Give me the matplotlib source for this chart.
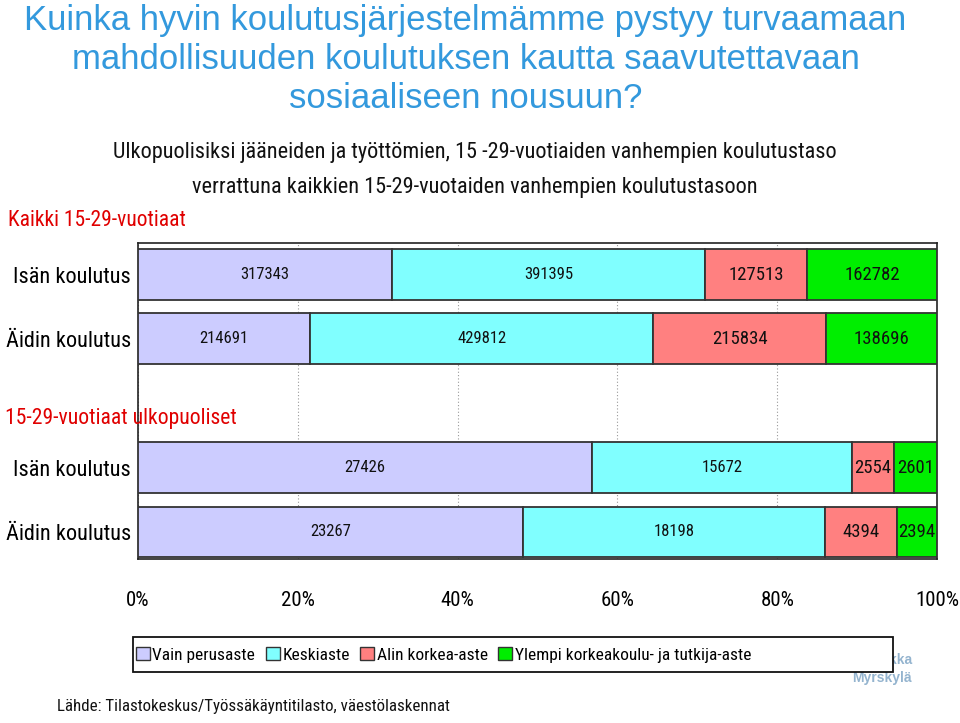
import matplotlib
matplotlib.use("Agg")
import matplotlib.pyplot as plt
from matplotlib import font_manager
from matplotlib.patches import Patch, Rectangle
import numpy as np

names = {f.name for f in font_manager.fontManager.ttflist}
cands = ['Liberation Sans Narrow', 'Arial Narrow', 'Roboto Condensed', 'PT Sans Narrow',
         'Archivo Narrow', 'Asap Condensed']
narrow = next((c for c in cands if c in names), 'Liberation Sans')
NARROW = [narrow, 'DejaVu Sans']
SANS = ['Liberation Sans', 'DejaVu Sans']

# ---- data ----
row_labels = ["Isän koulutus", "Äidin koulutus", "", "Isän koulutus", "Äidin koulutus"]
series_names = ["Vain perusaste", "Keskiaste", "Alin korkea-aste", "Ylempi korkeakoulu- ja tutkija-aste"]
vain_perusaste = [317343, 214691, None, 27426, 23267]
keskiaste = [391395, 429812, None, 15672, 18198]
alin_korkea = [127513, 215834, None, 2554, 4394]
ylempi_korkea = [162782, 138696, None, 2601, 2394]
tick_labels = ["0%", "20%", "40%", "60%", "80%", "100%"]

colors = ["#CCCCFF", "#80FFFF", "#FF8080", "#00EE00"]
series = [vain_perusaste, keskiaste, alin_korkea, ylempi_korkea]

fig = plt.figure(figsize=(9.6, 7.23), dpi=100)
ax = fig.add_axes([138/960, 1-559/723, 799/960, 316/723])

rows = [i for i in range(len(row_labels)) if vain_perusaste[i] is not None]
totals = {i: sum(s[i] for s in series) for i in rows}
for i in rows:
    left = 0.0
    for k, s in enumerate(series):
        w = s[i] / totals[i] * 100
        ax.barh(i, w, left=left, height=0.79, color=colors[k], edgecolor="#333333",
                linewidth=1.3, zorder=3)
        fs = 12 if k < 2 else 13.5
        ax.text(left + w/2, i, str(s[i]), ha="center", va="center", fontsize=fs,
                family=NARROW, color="#111111", zorder=4)
        left += w

ax.set_xlim(0, 100)
ax.set_ylim(4.42, -0.49)
ax.set_xticks(np.arange(0, 101, 20))
ax.set_xticklabels(tick_labels, family=NARROW, fontsize=15)
ax.tick_params(axis="x", length=0, pad=23)
ax.set_yticks([i for i in range(len(row_labels)) if row_labels[i]])
ax.set_yticklabels([l for l in row_labels if l], fontsize=16, family=NARROW)
ax.tick_params(axis="y", length=0, pad=5)
ax.grid(axis="x", linestyle=(0, (1, 2)), color="#999999", linewidth=0.8, zorder=0)
for sp in ax.spines.values():
    sp.set_color("#222222")
    sp.set_linewidth(1.2)

# titles
title_lines = "Kuinka hyvin koulutusjärjestelmämme pystyy turvaamaan\nmahdollisuuden koulutuksen kautta saavutettavaan\nsosiaaliseen nousuun?"
fig.text(0.485, 1-4/723, title_lines, ha="center", va="top", fontsize=25,
         family=SANS, color="#3399DD", linespacing=1.24)
sub = "Ulkopuolisiksi jääneiden ja työttömien, 15 -29-vuotiaiden vanhempien koulutustaso\nverrattuna kaikkien 15-29-vuotaiden vanhempien koulutustasoon"
fig.text(0.495, 1-142/723, sub, ha="center", va="top", fontsize=16, family=NARROW,
         color="#111111", linespacing=1.9)
fig.text(8/960, 1-220/723, "Kaikki 15-29-vuotiaat", ha="left", va="center", fontsize=15.5,
         family=NARROW, color="#E00000")
fig.text(5/960, 1-418/723, "15-29-vuotiaat ulkopuoliset", ha="left", va="center", fontsize=15.6,
         family=NARROW, color="#E00000", zorder=10)

# logo text (partly hidden by the legend box, as in the original)
fig.text(912/960, 1-660/723, "Pekka", ha="right", va="center", fontsize=10, fontweight="bold",
         family=SANS, color="#94B4CF", zorder=1)
fig.text(912/960, 1-678/723, "Myrskylä", ha="right", va="center", fontsize=10, fontweight="bold",
         family=SANS, color="#94B4CF", zorder=1)

# legend box
fig.patches.append(Rectangle((133/960, 1-672/723), (893-133)/960, 35/723, transform=fig.transFigure,
                             facecolor="white", edgecolor="#111111", linewidth=1.3, zorder=5))
handles = [Patch(facecolor=c, edgecolor="#333333", linewidth=1) for c in colors]
leg = fig.legend(handles, series_names, loc="center left", bbox_to_anchor=(136/960, 1-655/723),
                 ncol=4, frameon=False, prop={'family': NARROW, 'size': 12.5},
                 handlelength=0.8, handleheight=0.8, handletextpad=0.15, columnspacing=0.6,
                 borderpad=0.0, borderaxespad=0.0)
leg.set_zorder(6)

fig.text(57/960, 1-706/723, "Lähde: Tilastokeskus/Työssäkäyntitilasto, väestölaskennat",
         ha="left", va="center", fontsize=12.2, family=NARROW, color="#111111")

fig.savefig("out.png", dpi=100)
